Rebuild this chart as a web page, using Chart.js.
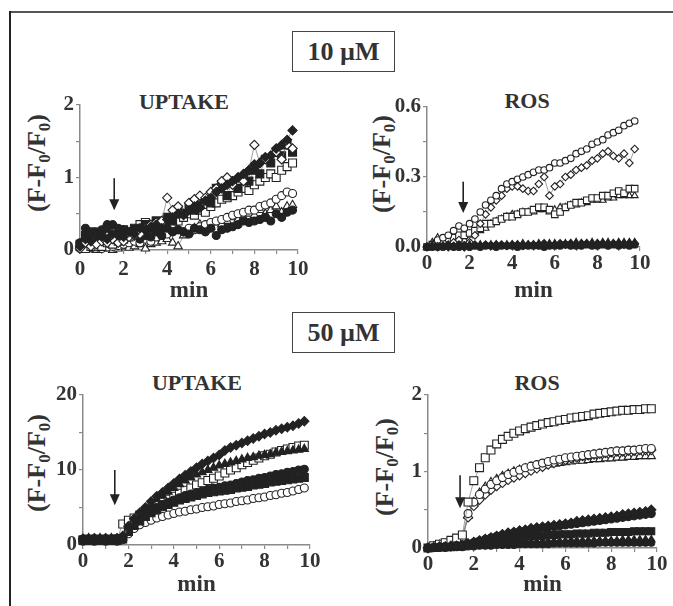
<!DOCTYPE html>
<html><head><meta charset="utf-8">
<script src="https://cdn.jsdelivr.net/npm/chart.js@4.4.0/dist/chart.umd.min.js"></script>
<style>
html,body{margin:0;padding:0;background:#fff;}
#page{position:relative;width:673px;height:606px;overflow:hidden;background:#fff;font-family:"Liberation Serif","Times New Roman",serif;color:#333;}
canvas{position:absolute;}
.frameTop{position:absolute;left:10px;top:11px;width:663px;height:2px;background:#555;}
.frameLeft{position:absolute;left:9px;top:11px;width:2px;height:595px;background:#222;}
.conc{position:absolute;left:292px;width:101px;height:39px;border:1.5px solid #444;font-weight:bold;font-size:26px;line-height:39px;text-align:center;color:#333;}
.ptitle{position:absolute;font-weight:bold;font-size:22px;line-height:1;transform:translate(-50%,-50%);white-space:nowrap;color:#333;}
.ylab{position:absolute;font-weight:bold;font-size:26px;line-height:1;white-space:nowrap;transform:translate(-50%,-50%) rotate(-90deg);color:#333;}
.ylab sub{font-size:17px;vertical-align:-5px;line-height:0;}
</style></head>
<body>
<div id="page">
  <div class="frameTop"></div>
  <div class="frameLeft"></div>
  <div class="conc" style="top:31px;">10 µM</div>
  <div class="conc" style="top:312px;">50 µM</div>
  <div class="ptitle" style="left:184px;top:102px;">UPTAKE</div>
  <div class="ptitle" style="left:527px;top:101px;">ROS</div>
  <div class="ptitle" style="left:197px;top:383px;">UPTAKE</div>
  <div class="ptitle" style="left:537px;top:383px;">ROS</div>
  <div class="ylab" style="left:37px;top:163px;">(F-F<sub>0</sub>/F<sub>0</sub>)</div>
  <div class="ylab" style="left:382px;top:164px;">(F-F<sub>0</sub>/F<sub>0</sub>)</div>
  <div class="ylab" style="left:37px;top:463px;">(F-F<sub>0</sub>/F<sub>0</sub>)</div>
  <div class="ylab" style="left:385px;top:467px;">(F-F<sub>0</sub>/F<sub>0</sub>)</div>
  <canvas id="c1" width="320" height="225" style="left:12px;top:80px;"></canvas>
  <canvas id="c2" width="328" height="225" style="left:345px;top:80px;"></canvas>
  <canvas id="c3" width="330" height="236" style="left:12px;top:370px;"></canvas>
  <canvas id="c4" width="328" height="236" style="left:345px;top:370px;"></canvas>
</div>
<script>
// ---- time axis (min) ----
const minutes = [0,0.25,0.5,0.75,1,1.25,1.5,1.75,2,2.25,2.5,2.75,3,3.25,3.5,3.75,4,4.25,4.5,4.75,5,5.25,5.5,5.75,6,6.25,6.5,6.75,7,7.25,7.5,7.75,8,8.25,8.5,8.75,9,9.25,9.5,9.75];
const xTickLabels = [0,2,4,6,8,10];

// ---- 10 µM UPTAKE ----
const up10_fDiamond = [0.05,0.15,0.12,0.2,0.18,0.15,0.22,0.2,0.18,0.25,0.22,0.3,0.28,0.32,0.35,0.3,0.42,0.45,0.5,0.48,0.55,0.6,0.58,0.68,0.72,0.8,0.85,0.9,0.95,1.0,1.05,1.1,1.18,1.2,1.28,1.3,1.4,1.45,1.52,1.65];
const up10_fSquare = [0.08,0.2,0.25,0.18,0.22,0.3,0.2,0.15,0.28,0.22,0.3,0.25,0.35,0.3,0.4,0.32,0.45,0.4,0.55,0.5,0.6,0.55,0.62,0.7,0.65,0.85,0.9,0.75,0.95,0.85,1.0,0.95,1.1,1.05,1.25,1.2,1.35,1.3,1.45,1.35];
const up10_oDiamond = [0.02,0.1,0.05,0.08,0.12,0.1,0.15,0.1,0.12,0.18,0.2,0.22,0.3,0.35,0.38,0.4,0.72,0.55,0.6,0.5,0.65,0.7,0.75,0.72,0.8,0.85,0.95,1.0,0.9,1.0,0.95,1.1,1.45,1.2,1.25,1.3,1.35,1.25,1.45,1.4];
const up10_oSquare = [0.05,0.02,0.05,0.1,0.05,0.1,0.08,0.12,0.15,0.18,0.25,0.35,0.38,0.3,0.4,0.32,0.42,0.45,0.4,0.45,0.5,0.48,0.55,0.52,0.6,0.65,0.7,0.72,0.75,0.8,0.85,0.82,0.9,0.95,1.0,1.05,1.0,1.1,1.15,1.2];
const up10_oCircle = [0.02,0.05,0.03,0.05,0.02,0.04,0.05,0.06,0.08,0.1,0.12,0.1,0.15,0.12,0.18,0.2,0.22,0.25,0.28,0.25,0.3,0.28,0.32,0.35,0.38,0.4,0.42,0.45,0.48,0.5,0.52,0.55,0.55,0.6,0.62,0.65,0.7,0.75,0.8,0.78];
const up10_fCircle = [0.1,0.3,0.2,0.25,0.28,0.35,0.35,0.3,0.28,0.2,0.25,0.15,0.2,0.18,0.25,0.2,0.3,0.25,0.28,0.25,0.22,0.3,0.28,0.25,0.3,0.2,0.28,0.3,0.32,0.35,0.4,0.38,0.4,0.42,0.45,0.4,0.5,0.45,0.52,0.55];
const up10_oTriangle = [0.08,0.02,0.05,0.0,0.02,0.03,0.0,0.02,0.05,0.03,0.05,0.08,0.02,0.08,0.1,0.12,0.15,0.1,0.05,0.2,0.25,0.3,0.35,0.3,0.32,0.38,0.35,0.4,0.45,0.42,0.45,0.5,0.48,0.55,0.5,0.55,0.6,0.52,0.6,0.62];
const up10_yTicks = [0,1,2];
const up10_yTickText = ['0','1','2'];
const up10_arrow = [1.57, 0.99, 0.55]; // x, from, to (data units)

// ---- 10 µM ROS ----
const ros10_oCircle = [0.0,0.01,0.03,0.04,0.05,0.07,0.09,0.08,0.1,0.12,0.15,0.18,0.2,0.22,0.25,0.27,0.28,0.29,0.3,0.31,0.32,0.33,0.33,0.34,0.36,0.36,0.37,0.38,0.4,0.41,0.42,0.44,0.45,0.46,0.48,0.49,0.5,0.52,0.53,0.54];
const ros10_oDiamond = [0.0,0.01,0.02,0.02,0.01,0.02,0.03,0.0,0.02,0.05,0.1,0.14,0.17,0.2,0.22,0.25,0.26,0.26,0.25,0.24,0.24,0.27,0.3,0.22,0.26,0.27,0.3,0.31,0.33,0.34,0.35,0.37,0.38,0.4,0.41,0.39,0.38,0.4,0.36,0.42];
const ros10_oSquare = [0.0,0.01,0.02,0.02,0.03,0.04,0.05,0.05,0.06,0.07,0.08,0.1,0.1,0.11,0.12,0.13,0.13,0.14,0.15,0.15,0.16,0.17,0.17,0.16,0.14,0.15,0.17,0.18,0.19,0.19,0.2,0.21,0.21,0.22,0.22,0.23,0.24,0.23,0.25,0.25];
const ros10_oTriangle = [0.0,0.02,0.04,0.03,0.02,0.03,0.04,0.03,0.05,0.06,0.07,0.08,0.1,0.11,0.12,0.13,0.14,0.14,0.15,0.15,0.15,0.16,0.16,0.15,0.16,0.17,0.17,0.18,0.18,0.19,0.19,0.2,0.2,0.2,0.21,0.21,0.22,0.22,0.22,0.22];
const ros10_fTriangle = [0.0,0.0,0.0,0.005,0.005,0.0,0.005,0.005,0.01,0.005,0.01,0.005,0.01,0.01,0.005,0.01,0.01,0.01,0.015,0.01,0.01,0.015,0.01,0.015,0.015,0.01,0.015,0.015,0.02,0.015,0.015,0.02,0.015,0.02,0.02,0.015,0.02,0.02,0.02,0.02];
const ros10_fDiamond = [0.0,0.005,0.0,0.005,0.0,0.005,0.01,0.0,0.005,0.01,0.005,0.01,0.005,0.01,0.01,0.005,0.01,0.01,0.005,0.01,0.01,0.01,0.015,0.01,0.01,0.015,0.01,0.015,0.01,0.015,0.015,0.01,0.015,0.015,0.01,0.015,0.015,0.01,0.015,0.015];
const ros10_fCircle = [0.0,0.0,0.0,0.0,0.005,0.0,0.0,0.005,0.0,0.005,0.0,0.005,0.005,0.0,0.005,0.005,0.005,0.0,0.005,0.005,0.005,0.005,0.0,0.005,0.005,0.005,0.01,0.005,0.005,0.005,0.01,0.005,0.005,0.01,0.005,0.01,0.005,0.01,0.005,0.01];
const ros10_yTicks = [0,0.3,0.6];
const ros10_yTickText = ['0.0','0.3','0.6'];
const ros10_arrow = [1.7, 0.28, 0.146];

// ---- 50 µM UPTAKE ----
const up50_fDiamond = [0.8,0.8,0.9,0.8,0.9,0.8,0.9,1.2,2.5,3.5,4.3,5.0,5.8,6.5,7.0,7.6,8.2,8.8,9.3,9.8,10.3,10.8,11.2,11.6,12.0,12.6,13.0,13.3,13.6,13.9,14.2,14.5,14.8,15.0,15.3,15.5,15.7,15.9,16.2,16.5];
const up50_oSquare = [0.7,0.8,0.7,0.8,0.7,0.8,0.8,2.8,3.3,3.6,4.0,4.4,4.9,5.3,5.7,6.1,6.5,6.9,7.3,7.6,8.0,8.3,8.6,8.9,9.2,9.6,10.0,10.3,10.7,11.0,11.3,11.6,11.9,12.1,12.4,12.6,12.8,13.0,13.2,13.3];
const up50_fTriangle = [0.8,0.9,0.8,0.9,0.8,0.9,0.8,1.0,2.2,3.2,4.0,4.8,5.5,6.1,6.6,7.1,7.6,8.1,8.6,9.0,9.4,9.7,10.0,10.3,10.6,10.8,11.0,11.2,11.4,11.6,11.7,11.9,12.0,12.1,12.3,12.4,12.5,12.6,12.7,12.8];
const up50_fCircle = [0.8,0.7,0.8,0.7,0.8,0.7,0.8,0.9,2.0,2.8,3.5,4.1,4.6,5.0,5.4,5.7,6.0,6.3,6.6,6.8,7.0,7.2,7.4,7.6,7.7,7.9,8.0,8.2,8.4,8.6,8.7,8.9,9.0,9.2,9.4,9.5,9.7,9.8,10.0,10.1];
const up50_fSquare = [0.6,0.7,0.6,0.7,0.6,0.7,0.6,0.8,1.8,2.6,3.2,3.8,4.3,4.7,5.1,5.4,5.7,6.0,6.2,6.4,6.6,6.8,7.0,7.1,7.2,7.3,7.4,7.6,7.7,7.8,8.0,8.1,8.2,8.4,8.5,8.6,8.7,8.8,8.9,9.0];
const up50_oCircle = [0.5,0.6,0.5,0.6,0.5,0.6,0.5,0.7,1.5,2.2,2.7,3.0,3.3,3.6,3.8,4.0,4.2,4.4,4.5,4.7,4.8,5.0,5.1,5.2,5.4,5.5,5.6,5.8,5.9,6.0,6.2,6.3,6.4,6.6,6.7,6.9,7.0,7.2,7.4,7.6];
const up50_yTicks = [0,10,20];
const up50_yTickText = ['0','10','20'];
const up50_arrow = [1.4, 10, 5.3];

// ---- 50 µM ROS ----
const ros50_oSquare = [0.0,0.03,0.05,0.07,0.1,0.13,0.17,0.6,0.88,1.05,1.18,1.28,1.36,1.42,1.46,1.5,1.53,1.56,1.58,1.6,1.62,1.64,1.65,1.67,1.68,1.7,1.71,1.72,1.73,1.75,1.76,1.77,1.78,1.79,1.8,1.8,1.81,1.81,1.82,1.82];
const ros50_oCircle = [0.0,0.02,0.04,0.06,0.08,0.1,0.14,0.45,0.6,0.7,0.77,0.83,0.88,0.92,0.96,0.99,1.02,1.05,1.07,1.09,1.11,1.13,1.15,1.16,1.18,1.19,1.2,1.21,1.22,1.23,1.24,1.25,1.26,1.27,1.27,1.28,1.28,1.29,1.3,1.3];
const ros50_oDiamond = [0.0,0.02,0.03,0.05,0.07,0.09,0.12,0.4,0.55,0.63,0.7,0.76,0.81,0.85,0.89,0.92,0.95,0.98,1.01,1.04,1.06,1.09,1.11,1.13,1.15,1.17,1.18,1.2,1.21,1.22,1.23,1.24,1.25,1.26,1.26,1.27,1.27,1.28,1.28,1.28];
const ros50_oTriangle = [0.0,0.02,0.04,0.05,0.07,0.09,0.12,0.42,0.6,0.72,0.8,0.86,0.9,0.94,0.97,1.0,1.02,1.04,1.06,1.07,1.08,1.09,1.1,1.11,1.12,1.13,1.14,1.14,1.15,1.16,1.16,1.17,1.17,1.18,1.18,1.19,1.19,1.2,1.2,1.2];
const ros50_fDiamond = [0.0,0.01,0.02,0.02,0.03,0.03,0.04,0.06,0.08,0.1,0.12,0.14,0.16,0.18,0.2,0.21,0.23,0.24,0.26,0.27,0.28,0.29,0.3,0.31,0.32,0.33,0.35,0.36,0.37,0.38,0.39,0.4,0.41,0.42,0.44,0.45,0.46,0.47,0.48,0.5];
const ros50_fCircle = [0.0,0.01,0.01,0.02,0.02,0.03,0.03,0.05,0.07,0.09,0.11,0.13,0.15,0.17,0.18,0.2,0.21,0.22,0.24,0.25,0.26,0.27,0.28,0.29,0.3,0.31,0.32,0.33,0.34,0.35,0.36,0.37,0.38,0.39,0.4,0.41,0.42,0.43,0.44,0.45];
const ros50_fSquare = [0.0,0.0,0.01,0.01,0.01,0.02,0.02,0.04,0.06,0.08,0.09,0.1,0.11,0.12,0.13,0.13,0.14,0.15,0.15,0.16,0.16,0.17,0.17,0.18,0.18,0.18,0.19,0.19,0.19,0.2,0.2,0.2,0.21,0.21,0.21,0.21,0.22,0.22,0.22,0.22];
const ros50_fTriangle = [0.0,0.0,0.0,0.01,0.01,0.01,0.02,0.03,0.04,0.05,0.05,0.06,0.06,0.07,0.07,0.07,0.08,0.08,0.08,0.08,0.09,0.09,0.09,0.09,0.09,0.1,0.1,0.1,0.1,0.1,0.1,0.1,0.1,0.1,0.11,0.11,0.11,0.11,0.11,0.11];
const ros50_fCircle2 = [0.0,0.0,0.0,0.0,0.01,0.01,0.01,0.02,0.02,0.03,0.03,0.03,0.04,0.04,0.04,0.04,0.05,0.05,0.05,0.05,0.05,0.05,0.06,0.06,0.06,0.06,0.06,0.06,0.06,0.06,0.07,0.07,0.07,0.07,0.07,0.07,0.07,0.07,0.07,0.07];
const ros50_yTicks = [0,1,2];
const ros50_yTickText = ['0','1','2'];
const ros50_arrow = [1.4, 0.95, 0.52];

// ---------------- drawing ----------------
const FONT = '"Liberation Serif", "Times New Roman", serif';
const sizeMul = {circle:1, rect:1.4, rectRot:1.15, triangle:1.2};

function series(values, style, filled, r) {
  return {
    data: minutes.map((m, i) => ({x: m, y: values[i]})),
    showLine: true,
    borderColor: '#777',
    borderWidth: 0.7,
    pointStyle: style,
    pointRadius: r * sizeMul[style],
    pointBorderWidth: 1.1,
    pointBorderColor: '#222',
    pointBackgroundColor: filled ? '#222' : '#fff',
    clip: 10
  };
}

const arrowPlugin = {
  id: 'downArrow',
  afterDatasetsDraw(chart, args, opts) {
    const a = opts.pos;
    if (!a) return;
    const {ctx} = chart, xs = chart.scales.x, ys = chart.scales.y;
    const px = xs.getPixelForValue(a[0]);
    const y1 = ys.getPixelForValue(a[1]);
    const y2 = ys.getPixelForValue(a[2]);
    ctx.save();
    ctx.strokeStyle = '#222'; ctx.fillStyle = '#222'; ctx.lineWidth = 1.6;
    ctx.beginPath(); ctx.moveTo(px, y1); ctx.lineTo(px, y2 - 8); ctx.stroke();
    ctx.beginPath(); ctx.moveTo(px - 5, y2 - 11); ctx.lineTo(px + 5, y2 - 11); ctx.lineTo(px, y2); ctx.closePath(); ctx.fill();
    ctx.restore();
  }
};

function makeChart(id, cfg) {
  const near = (v, arr) => arr.findIndex(t => Math.abs(t - v) < 1e-6);
  new Chart(document.getElementById(id), {
    type: 'scatter',
    data: {datasets: cfg.datasets},
    plugins: [arrowPlugin],
    options: {
      responsive: false,
      animation: false,
      layout: {padding: {left: 0, top: cfg.padTop, right: cfg.padRight, bottom: 0}},
      plugins: {legend: {display: false}, tooltip: {enabled: false}, downArrow: {pos: cfg.arrow}},
      scales: {
        x: {
          type: 'linear', min: 0, max: 10,
          afterFit: s => { s.height = cfg.xH; },
          ticks: {stepSize: 1, autoSkip: false, maxRotation: 0, padding: cfg.xPad, color: '#333',
            font: {family: FONT, size: 21, weight: 'bold'},
            callback: v => near(v, xTickLabels) >= 0 ? String(v) : ''},
          grid: {drawOnChartArea: false, drawTicks: true, tickLength: 4, color: '#8a8a8a', lineWidth: 1.2},
          border: {display: true, color: '#8a8a8a', width: 1.5},
          title: {display: true, text: 'min', color: '#333', font: {family: FONT, size: 23, weight: 'bold'},
            padding: {top: 0, bottom: cfg.titlePad}}
        },
        y: {
          type: 'linear', min: cfg.ymin, max: cfg.ymax,
          afterFit: s => { s.width = cfg.yW; },
          ticks: {stepSize: cfg.ystep, autoSkip: false, padding: 2, color: '#333',
            font: {family: FONT, size: 21, weight: 'bold'},
            callback: v => { const k = near(v, cfg.yTicks); return k >= 0 ? cfg.yText[k] : ''; }},
          grid: {drawOnChartArea: false, drawTicks: true, tickLength: 4, color: '#8a8a8a', lineWidth: 1.2},
          border: {display: true, color: '#8a8a8a', width: 1.5}
        }
      }
    }
  });
}

makeChart('c1', {
  datasets: [
    series(up10_fDiamond, 'rectRot', true, 4),
    series(up10_oDiamond, 'rectRot', false, 4),
    series(up10_fSquare, 'rect', true, 4),
    series(up10_oSquare, 'rect', false, 4),
    series(up10_fCircle, 'circle', true, 4),
    series(up10_oCircle, 'circle', false, 4),
    series(up10_oTriangle, 'triangle', false, 4)
  ],
  padTop: 25, padRight: 34, yW: 68, xH: 55, xPad: 3, titlePad: 0,
  ymin: 0, ymax: 2, ystep: 0.5, yTicks: up10_yTicks, yText: up10_yTickText, arrow: up10_arrow
});

makeChart('c2', {
  datasets: [
    series(ros10_fTriangle, 'triangle', true, 3.4),
    series(ros10_fDiamond, 'rectRot', true, 3.4),
    series(ros10_fCircle, 'circle', true, 3.4),
    series(ros10_oCircle, 'circle', false, 3.3),
    series(ros10_oDiamond, 'rectRot', false, 3.3),
    series(ros10_oSquare, 'rect', false, 3.3),
    series(ros10_oTriangle, 'triangle', false, 3.3)
  ],
  padTop: 27, padRight: 33, yW: 82, xH: 58, xPad: 0, titlePad: 0,
  ymin: 0, ymax: 0.6, ystep: 0.15, yTicks: ros10_yTicks, yText: ros10_yTickText, arrow: ros10_arrow
});

makeChart('c3', {
  datasets: [
    series(up50_fDiamond, 'rectRot', true, 4),
    series(up50_fTriangle, 'triangle', true, 4),
    series(up50_fCircle, 'circle', true, 4),
    series(up50_fSquare, 'rect', true, 4),
    series(up50_oSquare, 'rect', false, 4),
    series(up50_oCircle, 'circle', false, 4)
  ],
  padTop: 25, padRight: 32, yW: 71, xH: 61, xPad: 0, titlePad: 7,
  ymin: 0, ymax: 20, ystep: 5, yTicks: up50_yTicks, yText: up50_yTickText, arrow: up50_arrow
});

makeChart('c4', {
  datasets: [
    series(ros50_fDiamond, 'rectRot', true, 4),
    series(ros50_fCircle, 'circle', true, 4),
    series(ros50_fSquare, 'rect', true, 3.5),
    series(ros50_fTriangle, 'triangle', true, 3.5),
    series(ros50_fCircle2, 'circle', true, 3.5),
    series(ros50_oSquare, 'rect', false, 4),
    series(ros50_oCircle, 'circle', false, 4),
    series(ros50_oDiamond, 'rectRot', false, 4),
    series(ros50_oTriangle, 'triangle', false, 4)
  ],
  padTop: 25, padRight: 16, yW: 83, xH: 58, xPad: 0, titlePad: 7,
  ymin: 0, ymax: 2, ystep: 0.5, yTicks: ros50_yTicks, yText: ros50_yTickText, arrow: ros50_arrow
});
</script>
</body></html>
